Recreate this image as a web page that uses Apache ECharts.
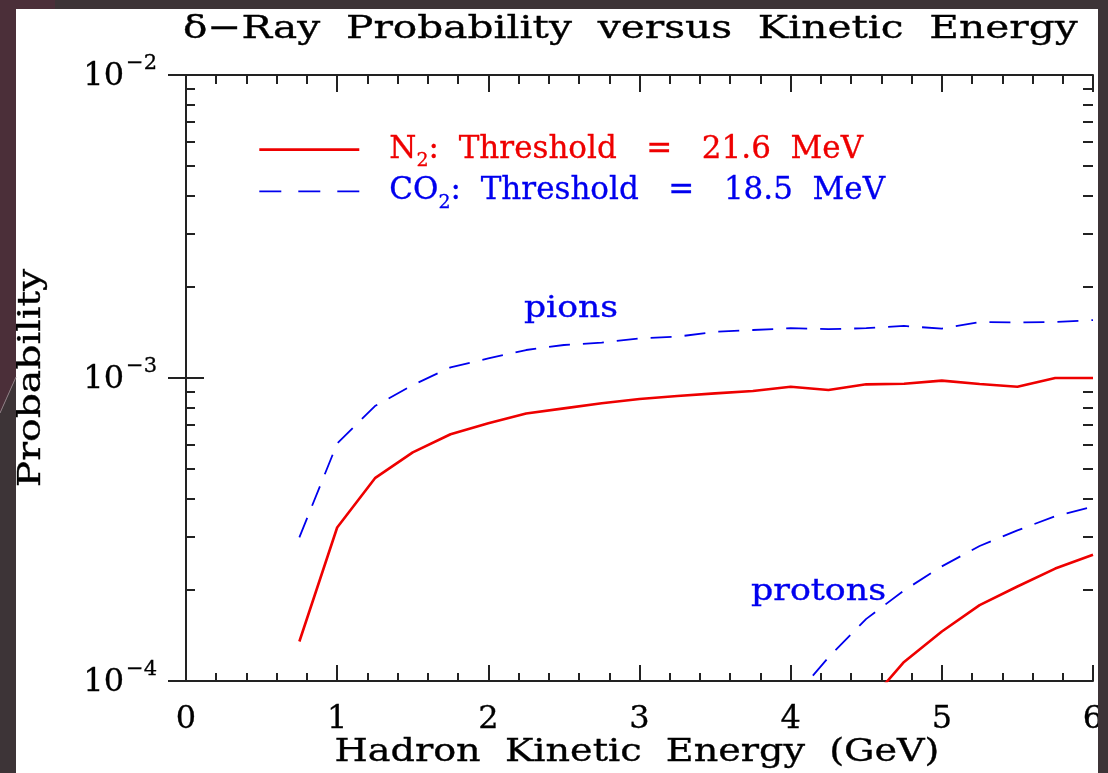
<!DOCTYPE html>
<html>
<head>
<meta charset="utf-8">
<title>delta-ray probability</title>
<script src="https://cdn.jsdelivr.net/npm/echarts@6/dist/echarts.min.js"></script>
<style>
  html, body { margin: 0; padding: 0; background: #fff; }
  #chart { width: 1108px; height: 773px; }
</style>
</head>
<body>
<div id="chart"></div>
<script>
// kinetic energy (GeV) on x, probability on y (log)
var pionEnergy = [0.75, 1.0, 1.25, 1.5, 1.75, 2.0, 2.25, 2.5, 2.75, 3.0, 3.25, 3.5, 3.75, 4.0, 4.25, 4.5, 4.75, 5.0, 5.25, 5.5, 5.75, 6.0];
var pionN2 = [1.35e-4, 3.21e-4, 4.67e-4, 5.68e-4, 6.52e-4, 7.09e-4, 7.64e-4, 7.94e-4, 8.25e-4, 8.52e-4, 8.72e-4, 8.9e-4, 9.06e-4, 9.36e-4, 9.13e-4, 9.53e-4, 9.57e-4, 9.8e-4, 9.55e-4, 9.36e-4, 1.0e-3, 1.0e-3];
var pionCO2 = [2.98e-4, 6.08e-4, 8.08e-4, 9.48e-4, 1.084e-3, 1.16e-3, 1.237e-3, 1.285e-3, 1.308e-3, 1.352e-3, 1.369e-3, 1.42e-3, 1.44e-3, 1.46e-3, 1.45e-3, 1.46e-3, 1.485e-3, 1.455e-3, 1.53e-3, 1.525e-3, 1.53e-3, 1.553e-3];

var protonEnergyCO2 = [4.0, 4.25, 4.5, 4.75, 5.0, 5.25, 5.5, 5.75, 6.0];
var protonCO2 = [0.857e-4, 1.196e-4, 1.603e-4, 1.99e-4, 2.39e-4, 2.79e-4, 3.14e-4, 3.50e-4, 3.76e-4];
var protonEnergyN2 = [4.5, 4.75, 5.0, 5.25, 5.5, 5.75, 6.0];
var protonN2 = [0.83e-4, 1.156e-4, 1.457e-4, 1.78e-4, 2.05e-4, 2.35e-4, 2.61e-4];

var xTicks = [0, 1, 2, 3, 4, 5, 6];
var yMin = 1e-4, yMax = 1e-2;
// minor log ticks 2..9 in each decade (as log10 values)
var minorDecades = [-4, -3];
var minorMultipliers = [2, 3, 4, 5, 6, 7, 8, 9];

var RED = '#ee0000';
var BLUE = '#0000ee';
var SERIF = 'DejaVu Serif';
var FRAME = '#3d3437';
var FRAME_TOP = '#4b2f39';

function pairs(xs, ys) {
    return xs.map(function (x, i) { return [x, ys[i]]; });
}

var minorTickValues = [];
minorDecades.forEach(function (d) {
    minorMultipliers.forEach(function (m) {
        minorTickValues.push(d + Math.log10(m));
    });
});

var chart = echarts.init(document.getElementById('chart'));

var axisLineStyle = { color: '#222', width: 2 };
var tickStyle = { color: '#222', width: 2 };

function txt(color, size) {
    return {
        fill: color,
        font: size + 'px "DejaVu Serif"',
        stroke: color,
        lineWidth: 0.35
    };
}

var option = {
    backgroundColor: '#fff',
    animation: false,
    grid: {
        left: 186,
        right: 15,
        top: 75,
        bottom: 92,
        outerBoundsMode: 'none'
    },
    legend: {
        left: 258,
        top: 134,
        padding: 0,
        orient: 'vertical',
        itemWidth: 100,
        itemHeight: 14,
        itemGap: 5,
        selectedMode: false,
        itemStyle: { opacity: 0 },
        data: [
            { name: 'N2', lineStyle: { width: 2.6 } },
            { name: 'CO2', lineStyle: { width: 1.8, type: [22, 17] } }
        ],
        formatter: function (name) {
            if (name === 'N2') {
                return '{rn|N}{rs|2}{rn|:  Threshold   =   21.6  MeV}';
            }
            return '{bn|CO}{bs|2}{bn|:  Threshold   =   18.5  MeV}';
        },
        textStyle: {
            padding: [0, 0, 0, 25],
            rich: {
                rn: { color: RED, fontFamily: SERIF, fontSize: 31, lineHeight: 42, verticalAlign: 'middle', textBorderColor: RED, textBorderWidth: 0.3 },
                rs: { color: RED, fontFamily: SERIF, fontSize: 19, lineHeight: 42, verticalAlign: 'bottom', textBorderColor: RED, textBorderWidth: 0.3 },
                bn: { color: BLUE, fontFamily: SERIF, fontSize: 31, lineHeight: 42, verticalAlign: 'middle', textBorderColor: BLUE, textBorderWidth: 0.3 },
                bs: { color: BLUE, fontFamily: SERIF, fontSize: 19, lineHeight: 42, verticalAlign: 'bottom', textBorderColor: BLUE, textBorderWidth: 0.3 }
            }
        }
    },
    xAxis: [
        {
            type: 'value',
            position: 'bottom',
            min: xTicks[0],
            max: xTicks[xTicks.length - 1],
            interval: 1,
            axisLine: { lineStyle: axisLineStyle },
            axisTick: { inside: true, length: 16, lineStyle: tickStyle },
            minorTick: { show: true, splitNumber: 5, length: 8, lineStyle: tickStyle },
            axisLabel: { fontFamily: SERIF, fontSize: 32, color: '#000', margin: 23, textBorderColor: '#000', textBorderWidth: 0.3 },
            splitLine: { show: false },
            minorSplitLine: { show: false }
        },
        {
            type: 'value',
            position: 'top',
            min: xTicks[0],
            max: xTicks[xTicks.length - 1],
            interval: 1,
            axisLine: { lineStyle: axisLineStyle },
            axisTick: { inside: true, length: 17, lineStyle: tickStyle },
            minorTick: { show: true, splitNumber: 5, length: 9, lineStyle: tickStyle },
            axisLabel: { show: false },
            splitLine: { show: false }
        }
    ],
    yAxis: [
        {
            type: 'log',
            logBase: 10,
            position: 'left',
            min: yMin,
            max: yMax,
            axisLine: { show: true, lineStyle: axisLineStyle },
            axisTick: { inside: true, length: 18, lineStyle: tickStyle },
            axisLabel: {
                margin: 29,
                formatter: function (v) {
                    var e = Math.round(Math.log10(v));
                    return '{b|10}{s|−' + Math.abs(e) + '}';
                },
                rich: {
                    b: { fontFamily: SERIF, fontSize: 32, color: '#000', lineHeight: 44, verticalAlign: 'middle', padding: [4, 0, 0, 0], textBorderColor: '#000', textBorderWidth: 0.3 },
                    s: { fontFamily: SERIF, fontSize: 21, color: '#000', lineHeight: 44, verticalAlign: 'top', padding: [0, 0, 0, 2], textBorderColor: '#000', textBorderWidth: 0.3 }
                }
            },
            splitLine: { show: false }
        },
        {
            type: 'log',
            logBase: 10,
            position: 'right',
            min: yMin,
            max: yMax,
            axisLine: { show: true, lineStyle: axisLineStyle },
            axisTick: { inside: true, length: 18, lineStyle: tickStyle },
            axisLabel: { show: false },
            splitLine: { show: false }
        },
        {
            type: 'value',
            position: 'left',
            min: Math.log10(yMin),
            max: Math.log10(yMax),
            axisLine: { show: false },
            axisTick: { show: true, inside: true, length: 9, customValues: minorTickValues, lineStyle: tickStyle },
            axisLabel: { show: false },
            splitLine: { show: false }
        },
        {
            type: 'value',
            position: 'right',
            min: Math.log10(yMin),
            max: Math.log10(yMax),
            axisLine: { show: false },
            axisTick: { show: true, inside: true, length: 10, customValues: minorTickValues, lineStyle: tickStyle },
            axisLabel: { show: false },
            splitLine: { show: false }
        }
    ],
    series: [
        {
            name: 'N2', type: 'line', symbol: 'none', clip: true,
            lineStyle: { color: RED, width: 2.6 }, itemStyle: { color: RED },
            data: pairs(pionEnergy, pionN2)
        },
        {
            name: 'CO2', type: 'line', symbol: 'none', clip: true,
            lineStyle: { color: BLUE, width: 1.8, type: [21, 13] }, itemStyle: { color: BLUE },
            data: pairs(pionEnergy, pionCO2)
        },
        {
            name: 'N2', type: 'line', symbol: 'none', clip: true,
            lineStyle: { color: RED, width: 2.6 }, itemStyle: { color: RED },
            data: pairs(protonEnergyN2, protonN2)
        },
        {
            name: 'CO2', type: 'line', symbol: 'none', clip: true,
            lineStyle: { color: BLUE, width: 1.8, type: [21, 13] }, itemStyle: { color: BLUE },
            data: pairs(protonEnergyCO2, protonCO2)
        }
    ],
    graphic: [
        // title and axis names (the original face is wider, so stretch horizontally)
        {
            type: 'text', x: 183, y: 14, scaleX: 1.27, z: 10,
            style: Object.assign(txt('#000', 32), { text: 'δ−Ray  Probability  versus  Kinetic  Energy', textVerticalAlign: 'top' })
        },
        {
            type: 'text', x: 637, y: 737, scaleX: 1.23, z: 10,
            style: Object.assign(txt('#000', 31), { text: 'Hadron  Kinetic  Energy  (GeV)', textAlign: 'center', textVerticalAlign: 'top' })
        },
        {
            type: 'text', x: 32, y: 378, rotation: Math.PI / 2, scaleX: 1.27, z: 10,
            style: Object.assign(txt('#000', 31), { text: 'Probability', textAlign: 'center', textVerticalAlign: 'middle' })
        },
        {
            type: 'text', x: 524, y: 295, scaleX: 1.19, z: 10,
            style: Object.assign(txt(BLUE, 29), { text: 'pions', textVerticalAlign: 'top' })
        },
        {
            type: 'text', x: 751, y: 578, scaleX: 1.2, z: 10,
            style: Object.assign(txt(BLUE, 29), { text: 'protons', textVerticalAlign: 'top' })
        },
        // dark frame of the slide around the plot
        { type: 'rect', z: 100, shape: { x: 0, y: 0, width: 1108, height: 9 }, style: { fill: FRAME } },
        { type: 'rect', z: 100, shape: { x: 0, y: 0, width: 55, height: 9 }, style: { fill: FRAME_TOP } },
        { type: 'rect', z: 100, shape: { x: 1098, y: 0, width: 10, height: 773 }, style: { fill: FRAME } },
        { type: 'polygon', z: 100, shape: { points: [[0, 0], [16, 0], [16, 377], [0, 413]] }, style: { fill: FRAME_TOP } },
        { type: 'polygon', z: 100, shape: { points: [[0, 413], [16, 377], [16, 773], [0, 773]] }, style: { fill: FRAME } },
        { type: 'line', z: 101, shape: { x1: 16, y1: 377, x2: 0, y2: 413 }, style: { stroke: '#8a7a80', lineWidth: 1 } }
    ]
};

chart.setOption(option);
</script>
</body>
</html>
